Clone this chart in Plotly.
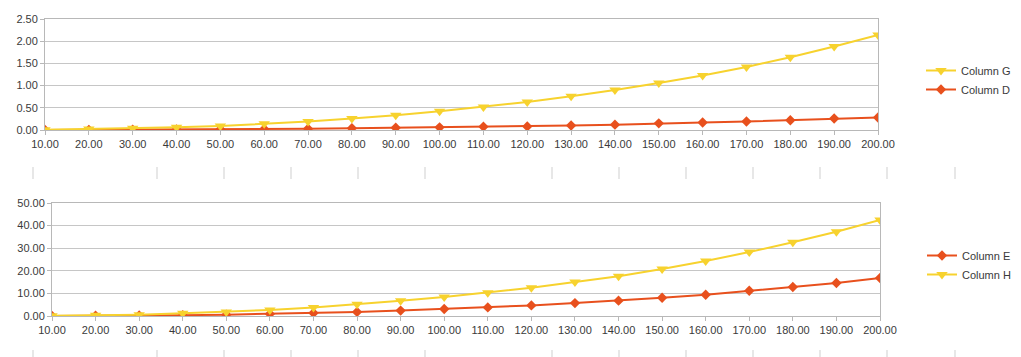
import plotly.graph_objects as go

# the page body has an 8px margin, so the figure is offset by 8px
OFF = 8
W, H = 1021 - OFF, 357 - OFF

x_vals = [10, 20, 30, 40, 50, 60, 70, 80, 90, 100, 110, 120, 130, 140, 150, 160, 170, 180, 190, 200]

col_g = [0.005, 0.02, 0.04, 0.06, 0.09, 0.14, 0.19, 0.26, 0.33, 0.42, 0.52, 0.63, 0.76, 0.90, 1.06, 1.23, 1.42, 1.64, 1.88, 2.14]
col_d = [0.001, 0.003, 0.005, 0.01, 0.015, 0.02, 0.03, 0.04, 0.05, 0.06, 0.075, 0.08, 0.10, 0.12, 0.15, 0.17, 0.19, 0.22, 0.26, 0.28]
col_e = [0.02, 0.08, 0.2, 0.35, 0.6, 0.9, 1.3, 1.8, 2.4, 3.1, 3.8, 4.7, 5.7, 6.8, 8.1, 9.4, 11.2, 12.8, 14.6, 16.8]
col_h = [0.1, 0.3, 0.6, 1.2, 1.8, 2.7, 3.8, 5.2, 6.8, 8.4, 10.3, 12.5, 15.0, 17.6, 20.8, 24.3, 28.3, 32.6, 37.3, 42.5]

RED = "#e8501d"
YEL = "#f7d22e"
GRID = "#c6c6c6"
TXT = "#3a3a3a"
FONT = "Liberation Sans, Arial, sans-serif"

fig = go.Figure()

fig.add_trace(go.Scatter(x=x_vals, y=col_d, name="Column D", mode="lines+markers",
                         line=dict(color=RED, width=2), marker=dict(symbol="diamond", size=8, color=RED),
                         xaxis="x", yaxis="y", legend="legend"))
fig.add_trace(go.Scatter(x=x_vals, y=col_g, name="Column G", mode="lines+markers",
                         line=dict(color=YEL, width=2), marker=dict(symbol="triangle-down", size=10, color=YEL),
                         xaxis="x", yaxis="y", legend="legend"))
fig.add_trace(go.Scatter(x=x_vals, y=col_e, name="Column E", mode="lines+markers",
                         line=dict(color=RED, width=2), marker=dict(symbol="diamond", size=8, color=RED),
                         xaxis="x2", yaxis="y2", legend="legend2"))
fig.add_trace(go.Scatter(x=x_vals, y=col_h, name="Column H", mode="lines+markers",
                         line=dict(color=YEL, width=2), marker=dict(symbol="triangle-down", size=10, color=YEL),
                         xaxis="x2", yaxis="y2", legend="legend2"))

def px_x(p):
    return (p - OFF) / W

def px_y(p):
    return 1 - (p - OFF) / H

axis_common = dict(showline=True, linecolor="#b8b8b8", linewidth=1, mirror=True,
                   tickfont=dict(family=FONT, size=11, color=TXT), zeroline=False,
                   ticks="outside", ticklen=4, tickcolor="#b8b8b8", automargin=False)

legend_common = dict(xanchor="right", yanchor="middle", font=dict(family=FONT, size=11, color=TXT),
                     bgcolor="rgba(0,0,0,0)", itemwidth=30, tracegroupgap=0, borderwidth=0)

fig.update_layout(
    width=W, height=H,
    margin=dict(l=0, r=0, t=0, b=0, autoexpand=False),
    paper_bgcolor="white", plot_bgcolor="white",
    font=dict(family=FONT, size=11, color=TXT),
    xaxis=dict(domain=[px_x(45), px_x(878)], anchor="y", range=[10, 200], tickvals=x_vals,
               tickformat=".2f", showgrid=False, **axis_common),
    yaxis=dict(domain=[px_y(130), px_y(19)], anchor="x", range=[0, 2.5], dtick=0.5,
               tickformat=".2f", showgrid=True, gridcolor=GRID, **axis_common),
    xaxis2=dict(domain=[px_x(52), px_x(880)], anchor="y2", range=[10, 200], tickvals=x_vals,
                tickformat=".2f", showgrid=False, **axis_common),
    yaxis2=dict(domain=[px_y(316), px_y(203)], anchor="x2", range=[0, 50], dtick=10,
                tickformat=".2f", showgrid=True, gridcolor=GRID, **axis_common),
    legend=dict(x=px_x(1016), y=px_y(80), traceorder="reversed", **legend_common),
    legend2=dict(x=px_x(1016), y=px_y(265), traceorder="normal", **legend_common),
)

# faint spreadsheet column separators below each chart
sep_x = [33, 157, 224, 291, 358, 425, 552, 619, 686, 753, 820, 887, 955]
shapes = []
for sx in sep_x:
    for (y0, y1) in [(167, 179), (350, 357)]:
        shapes.append(dict(type="line", xref="paper", yref="paper",
                           x0=px_x(sx), x1=px_x(sx), y0=px_y(y1), y1=px_y(y0),
                           line=dict(color="#cfcfcf", width=1)))
fig.update_layout(shapes=shapes)

fig.write_html("out.html")
